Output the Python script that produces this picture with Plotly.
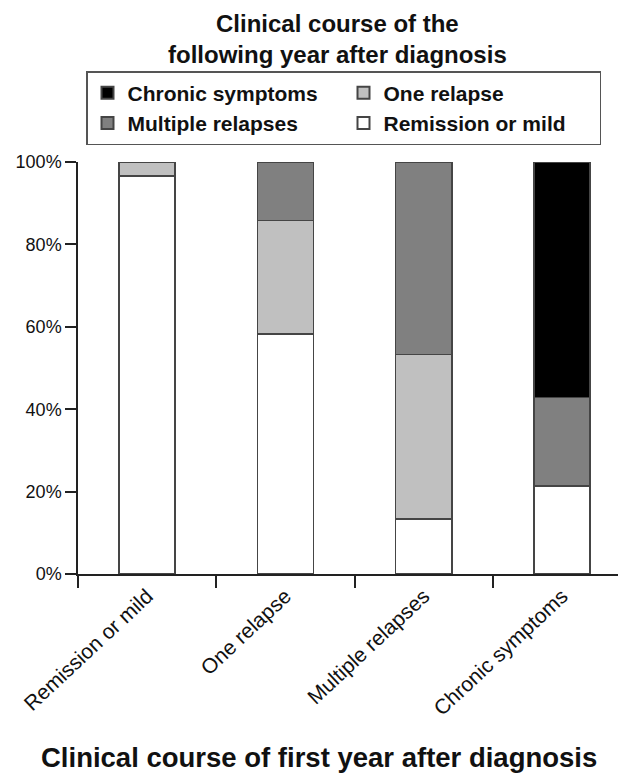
import plotly.graph_objects as go

categories = ["Remission or mild", "One relapse", "Multiple relapses", "Chronic symptoms"]
remission = [0.966, 0.583, 0.133, 0.214]
one_relapse = [0.034, 0.275, 0.400, 0.0]
multiple = [0.0, 0.142, 0.467, 0.214]
chronic = [0.0, 0.0, 0.0, 0.572]

series = [
    ("Remission or mild", remission, "#ffffff", 4),
    ("One relapse", one_relapse, "#c0c0c0", 2),
    ("Multiple relapses", multiple, "#808080", 3),
    ("Chronic symptoms", chronic, "#000000", 1),
]

fig = go.Figure()
for name, vals, color, rank in series:
    fig.add_trace(go.Bar(
        x=categories, y=vals, name=name, legendrank=rank,
        marker=dict(color=color, line=dict(color="#454545", width=1.5)),
        width=0.405,
    ))

# page has an 8px body margin; work in page coordinates and convert
OFF = 8
W, H = 626 - OFF, 783 - OFF
L = 78 - OFF
T = 162 - OFF
B = 783 - 574
R = 0
pw = W - L - R
ph = H - T - B


def px_x(page_x):
    return (page_x - OFF - L) / pw


def px_y(page_y):
    return (T + ph - (page_y - OFF)) / ph


FONT = "Liberation Sans, Arial, sans-serif"

fig.update_layout(
    width=W, height=H, barmode="stack",
    margin=dict(l=L, r=R, t=T, b=B, pad=0),
    plot_bgcolor="white", paper_bgcolor="white",
    font=dict(family=FONT, color="#111111"),
    showlegend=True,
    legend=dict(
        orientation="h", x=px_x(86), xanchor="left",
        y=px_y(71), yanchor="top",
        entrywidth=211, entrywidthmode="pixels",
        bordercolor="#555555", borderwidth=1.5,
        font=dict(size=21, family=FONT, color="#111111", weight="bold"),
        traceorder="normal", itemsizing="constant", tracegroupgap=0,
    ),
    annotations=[
        dict(
            text="<b>Clinical course of the<br>following year after diagnosis</b>",
            x=px_x(337), xref="paper", xanchor="center",
            y=px_y(8), yref="paper", yanchor="top",
            showarrow=False, font=dict(size=24, color="#111111"),
        ),
        dict(
            text="<b>Clinical course of first year after diagnosis</b>",
            x=px_x(319), xref="paper", xanchor="center",
            y=px_y(757), yref="paper", yanchor="middle",
            showarrow=False, font=dict(size=27.5, color="#111111"),
        ),
    ],
    xaxis=dict(
        type="category", range=[-0.5, -0.5 + pw / 138.3],
        showline=True, linecolor="#222222", linewidth=1.5,
        ticks="outside", tickson="boundaries", ticklen=12, tickcolor="#222222", tickwidth=1.5,
        tickangle=-43, tickfont=dict(size=21, color="#111111"),
        showgrid=False, automargin=False,
    ),
    yaxis=dict(
        range=[0, 1], tickformat=".0%", dtick=0.2,
        showline=True, linecolor="#222222", linewidth=1.5,
        ticks="outside", ticklen=11, tickcolor="#222222", tickwidth=1.5,
        tickfont=dict(size=18, color="#111111"),
        showgrid=False, zeroline=False, automargin=False,
    ),
)

fig.write_html("out.html")
